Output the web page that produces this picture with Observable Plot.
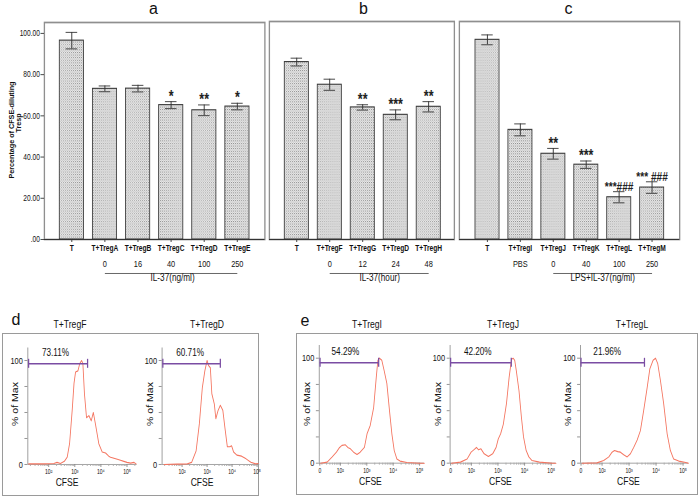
<!DOCTYPE html>
<html><head><meta charset="utf-8">
<script src="https://cdn.jsdelivr.net/npm/d3@7"></script>
<script src="https://cdn.jsdelivr.net/npm/@observablehq/plot@0.6"></script>
<style>
body{margin:0;background:#fff;}
#fig{position:relative;width:700px;height:498px;overflow:hidden;background:#fff;font-family:Arial,'Liberation Sans',Helvetica,sans-serif;}
.lbl{position:absolute;white-space:nowrap;line-height:1;color:#111;}
.box{position:absolute;border:1.5px solid #9a9a9a;box-sizing:border-box;}
svg.plot-svg{position:absolute;left:0;top:0;max-width:none;transform-origin:0 0;}
</style></head><body>
<svg width="0" height="0" style="position:absolute">
 <defs>
  <pattern id="hatch" width="2.6" height="2.6" patternUnits="userSpaceOnUse">
   <rect width="2.6" height="2.6" fill="#ebebeb"/>
   <rect x="0" y="0" width="1" height="1" fill="#878787"/>
   <rect x="1.3" y="1.3" width="1" height="1" fill="#a8a8a8"/>
  </pattern>
 </defs>
</svg>
<div id="fig"></div>
<script>
// ---------------- DATA ----------------
// Panel a
const catsA = ["T","T+TregA","T+TregB","T+TregC","T+TregD","T+TregE"];
const meanA = [96.5, 73.1, 73.2, 65.2, 62.7, 64.5];
const errA  = [4.0, 1.4, 1.6, 1.7, 2.6, 1.6];
const sigA  = ["", "", "", "*", "**", "*"];
const doseA = ["", "0", "16", "40", "100", "250"];
const groupA = "IL-37(ng/ml)";
// Panel b
const catsB = ["T","T+TregF","T+TregG","T+TregD","T+TregH"];
const meanB = [86.1, 75.1, 64.1, 60.5, 64.4];
const errB  = [1.9, 2.7, 1.3, 2.4, 2.5];
const sigB  = ["", "", "**", "***", "**"];
const doseB = ["", "0", "12", "24", "48"];
const groupB = "IL-37(hour)";
// Panel c
const catsC = ["T","T+TregI","T+TregJ","T+TregK","T+TregL","T+TregM"];
const meanC = [96.9, 53.2, 41.6, 36.3, 20.5, 25.2];
const errC  = [2.4, 2.9, 2.6, 1.8, 2.7, 2.8];
const sigC  = ["", "", "**", "***", "***###", "*** ###"];
const doseC = ["", "PBS", "0", "40", "100", "250"];
const groupC = "LPS+IL-37(ng/ml)";
// y axis of bar panels
const barYTicks = [0, 20, 40, 60, 80, 100];
const barYLabels = [".00", "20.00", "40.00", "60.00", "80.00", "100.00"];
const barYTitle1 = "Percentage of CFSE-diluting";
const barYTitle2 = "Tresp";

// Histograms: [log10(CFSE), % of Max]
const curveF = [[1.23,0.6],[1.8,0.6],[2.2,1],[2.32,2],[2.45,1],[2.6,3],[2.71,7],[2.8,20],[2.9,52],[2.97,78],[3.03,89],[3.12,90],[3.19,97],[3.26,100],[3.31,97],[3.37,68],[3.45,45],[3.54,47],[3.63,42],[3.71,50],[3.79,39],[3.92,20],[4.05,12],[4.18,11],[4.3,8],[4.37,7],[4.5,6],[4.63,5],[4.75,4],[4.88,3],[5.0,2],[5.14,1.3],[5.27,2],[5.35,0.6]];
const curveD = [[1.28,0],[1.8,0.3],[2.19,0.5],[2.38,2],[2.56,13],[2.69,39],[2.81,74],[2.91,90],[3.0,100],[3.06,95],[3.13,93],[3.19,68],[3.29,58],[3.35,44],[3.44,52],[3.53,57],[3.63,52],[3.71,36],[3.81,17],[3.91,17],[3.98,18],[4.06,12],[4.19,9],[4.38,8],[4.56,5.4],[4.75,2.2],[4.94,0.6],[5.05,1]];
const curveI = [[1.25,0],[1.5,1],[1.69,6],[1.85,10.5],[1.97,15],[2.06,17],[2.19,17.5],[2.28,15],[2.38,13.7],[2.5,10.5],[2.63,8.3],[2.75,10.5],[2.91,15],[3.01,28],[3.13,36],[3.26,53],[3.36,82],[3.42,98],[3.48,100],[3.57,98],[3.66,88],[3.76,76],[3.86,50],[3.95,28],[4.04,12],[4.14,4],[4.26,2],[4.52,0.6],[5.02,0],[5.18,0]];
const curveJ = [[1.25,0],[1.59,1],[1.84,4],[1.99,10.5],[2.09,12.7],[2.19,15],[2.27,12.7],[2.36,13.7],[2.48,8.9],[2.64,6.3],[2.8,8.9],[2.93,15],[3.01,23],[3.1,28],[3.2,37],[3.32,57],[3.42,82],[3.51,99],[3.57,100],[3.63,98],[3.69,88],[3.79,69],[3.88,44],[3.96,25],[4.06,12],[4.16,6],[4.28,2.5],[4.56,1],[5.05,0],[5.18,0]];
const curveL = [[1.26,0],[1.81,0.3],[2.06,2.5],[2.25,6],[2.37,10.5],[2.46,12],[2.58,11],[2.68,10.5],[2.8,8],[2.93,6],[3.05,9],[3.17,15],[3.3,22],[3.42,31],[3.54,50],[3.67,72],[3.77,90],[3.89,98],[3.98,100],[4.06,95],[4.16,79],[4.28,57],[4.41,28],[4.53,12],[4.65,4],[4.84,2],[5.1,0.6],[5.2,0]];
const histTitles = ["T+TregF","T+TregD","T+TregI","T+TregJ","T+TregL"];
const histCurves = [curveF, curveD, curveI, curveJ, curveL];
const gatePct   = ["73.11%","60.71%","54.29%","42.20%","21.96%"];
const gateStart = [1.23, 1.23, 1.23, 1.22, 1.22];
const gateEnd   = [3.49, 3.53, 3.45, 3.5, 3.57];
const gateLevel = [96.8, 96.8, 95.6, 95.6, 95.6];
const gateTextX = [2.26, 2.32, 2.19, 2.24, 2.19];
const histXTicksD = [2, 3, 4, 5];
const histXLabelsD = ["10²","10³","10⁴","10⁵"];
const histXTicksE = [1.22, 2, 3, 4, 5];
const histXLabelsE = ["0","10²","10³","10⁴","10⁵"];
const histYTicks = [0, 25, 50, 75, 100];
const histYLabels = ["0", "", "", "", "100"];
const histXTitle = "CFSE";
const histYTitle = "% of Max";

// ---------------- LAYOUT ----------------
const SX = 0.78;              // horizontal squeeze of the original figure
const X = v => v / SX;        // screen px -> unscaled plot px
const W = 700 / SX;
const fig = document.getElementById("fig");
function put(svg){ svg.classList.add("plot-svg"); svg.style.transform = `scaleX(${SX})`; fig.appendChild(svg); }
function lbl(text, x, y, size, opts = {}){
  const d = document.createElement("div"); d.className = "lbl"; d.textContent = text;
  d.style.left = x + "px"; d.style.top = y + "px"; d.style.fontSize = size + "px";
  d.style.transform = `translate(-50%,-50%)` + (opts.sx ? ` scaleX(${opts.sx})` : "") + (opts.rot ? ` rotate(${opts.rot}deg)` : "");
  if (opts.bold) d.style.fontWeight = "bold";
  fig.appendChild(d);
}
const STYLE = {background:"transparent", fontFamily:"Arial,'Liberation Sans',Helvetica,sans-serif", overflow:"visible", color:"#111", maxWidth:"none"};

function barPanel(P){
  const data = P.cats.map((c,i)=>({cat:c, mean:P.mean[i], lo:P.mean[i]-P.err[i], hi:P.mean[i]+P.err[i], sig:P.sig[i]}));
  const doseMap = new Map(P.cats.map((c,i)=>[c, P.dose[i]]));
  const group = [{from:P.cats[P.gFrom], to:P.cats[P.cats.length-1], at:P.cats[P.gAt], text:P.group}];
  const marks = [
    Plot.frame({stroke:"#8f8f8f", strokeWidth:1.7}),
    Plot.barY(data, {x:"cat", y:"mean", fill:"url(#hatch)", stroke:"#3a3a3a", strokeWidth:1.1}),
    Plot.ruleX(data, {x:"cat", y1:"lo", y2:"hi", stroke:"#333", strokeWidth:1.2}),
    Plot.tickY(data, {x:"cat", y:"lo", stroke:"#333", insetLeft:X(6.3), insetRight:X(6.3)}),
    Plot.tickY(data, {x:"cat", y:"hi", stroke:"#333", insetLeft:X(6.3), insetRight:X(6.3)}),
    Plot.text(data, {x:"cat", y:"hi", text:"sig", dy:-5, fontSize:d => d.sig.includes("#") ? 13 : 16, fontWeight:"bold", fill:"#222"}),
    Plot.ruleY([0], {stroke:"#333", strokeWidth:1.2}),
    Plot.axisX({tickSize:3, tickPadding:2, fontSize:8.5, fontWeight:"bold", label:null, stroke:"#333"}),
    Plot.axisX({tickSize:0, tickPadding:21, fontSize:9.5, tickFormat:d=>doseMap.get(d), label:null}),
    Plot.link(group, {x1:"from", x2:"to", y1:()=>0, y2:()=>0, dy:34, stroke:"#555", strokeWidth:1}),
    Plot.text(group, {x:"at", text:"text", frameAnchor:"bottom", dy:42, dx:X(P.gDx), fontSize:10.5})
  ];
  if (P.yAxis) {
    marks.push(Plot.axisY({ticks:barYTicks, tickFormat:d=>barYLabels[barYTicks.indexOf(d)], tickSize:X(3.5), tickPadding:X(1), fontSize:8.5, label:null, stroke:"#333"}));
  }
  return Plot.plot({
    width:W, height:300,
    marginLeft:X(P.left), marginRight:W-X(P.right), marginTop:P.top, marginBottom:300-239,
    x:{type:"band", domain:P.cats, range:[X(P.range[0]), X(P.range[1])], paddingInner:0.27, paddingOuter:0, round:false, axis:null},
    y:{domain:[0, P.yTop], axis:null},
    style:STYLE,
    marks
  });
}

put(barPanel({cats:catsA, mean:meanA, err:errA, sig:sigA, dose:doseA, group:groupA, gFrom:1, gAt:3, gDx:1.5,
  left:44, right:264.5, top:22, yTop:105.3, range:[59.3, 249], yAxis:true}));
put(barPanel({cats:catsB, mean:meanB, err:errB, sig:sigB, dose:doseB, group:groupB, gFrom:1, gAt:2, gDx:17,
  left:269, right:454, top:21, yTop:105.8, range:[284.3, 440.3], yAxis:false}));
put(barPanel({cats:catsC, mean:meanC, err:errC, sig:sigC, dose:doseC, group:groupC, gFrom:2, gAt:3, gDx:16.5,
  left:459, right:679.3, top:21, yTop:105.8, range:[475, 663.7], yAxis:false}));

lbl(barYTitle1, 11.8, 130, 7.2, {bold:true, rot:-90});
lbl(barYTitle2, 19.3, 122.5, 7.2, {bold:true, rot:-90});
lbl("a", 153.5, 9, 16);
lbl("b", 363.5, 8.5, 16);
lbl("c", 568.5, 9, 16);

// Bottom boxes
function box(l,t,r,b){ const d=document.createElement("div"); d.className="box"; d.style.left=l+"px"; d.style.top=t+"px"; d.style.width=(r-l)+"px"; d.style.height=(b-t)+"px"; fig.appendChild(d); }
box(2, 333, 259, 495.5);
box(295.5, 333, 697.5, 494.5);

const X_MIN = 1.2, Y_MAX = 112;
const histLayout = [
  {x2:48.3, dec:26.1, xMax:5.38, y0:464, y100:360, tx:70, cfse:66.7, e:false},
  {x2:181.7, dec:25.0, xMax:5.1, y0:464, y100:360, tx:206.7, cfse:201.7, e:false},
  {x2:340, dec:26.4, xMax:5.18, y0:462.7, y100:357.7, tx:366.7, cfse:370, e:true},
  {x2:471, dec:26.6, xMax:5.18, y0:462.7, y100:357.7, tx:502.7, cfse:500, e:true},
  {x2:601.7, dec:27.0, xMax:5.2, y0:462.7, y100:357.7, tx:631.7, cfse:628, e:true}
];
const PURPLE = "#7a4da3", SALMON = "#f47560";
histLayout.forEach((L, i) => {
  const left = L.x2 - (2 - X_MIN) * L.dec;
  const right = L.x2 + (L.xMax - 2) * L.dec;
  const ppu = (L.y0 - L.y100) / 100;
  const top = L.y0 - Y_MAX * ppu;
  const minorTicks = [];
  for (let n = 1; n <= 5; n++) for (let k = 2; k <= 9; k++) { const v = n + Math.log10(k); if (v > X_MIN && v < L.xMax) minorTicks.push(v); }
  const gate = {start:gateStart[i], end:gateEnd[i], level:gateLevel[i], tx:gateTextX[i], pct:gatePct[i]};
  const ends = [{x:gate.start, l:gate.level}, {x:gate.end, l:gate.level}];
  const xt = L.e ? histXTicksE : histXTicksD, xl = L.e ? histXLabelsE : histXLabelsD;
  const cfseDx = L.cfse - (left + right) / 2;
  const svg = Plot.plot({
    width:W, height:498,
    marginLeft:X(left), marginRight:W-X(right), marginTop:top, marginBottom:498-L.y0,
    x:{domain:[X_MIN, L.xMax], axis:null},
    y:{domain:[0, Y_MAX], axis:null},
    style:STYLE,
    marks:[
      Plot.ruleY([0], {stroke:"#9a9a9a"}),
      Plot.ruleX([X_MIN], {stroke:"#9a9a9a", strokeWidth:1.2}),
      Plot.axisX({ticks:minorTicks, tickSize:2, tickFormat:()=>"", stroke:"#aaa", label:null}),
      Plot.axisX({ticks:xt, tickSize:3, tickPadding:2, tickFormat:d=>xl[xt.indexOf(d)], fontSize:6.5, stroke:"#888", label:null}),
      Plot.axisY({ticks:histYTicks, tickSize:X(3), tickPadding:X(2), tickFormat:d=>histYLabels[histYTicks.indexOf(d)], fontSize:9.5, stroke:"#888", label:null}),
      Plot.text([histXTitle], {frameAnchor:"bottom", dy:22, dx:X(cfseDx), fontSize:11}),
      Plot.line(histCurves[i], {x:d=>d[0], y:d=>d[1], stroke:SALMON, strokeWidth:1.1}),
      Plot.ruleY([gate], {y:"level", x1:"start", x2:"end", stroke:PURPLE, strokeWidth:1.6}),
      Plot.ruleX(ends, {x:"x", y1:"l", y2:"l", insetTop:-4.5, insetBottom:-4.5, stroke:PURPLE, strokeWidth:1.6}),
      Plot.text([gate], {x:"tx", y:"level", text:"pct", dy:-11, fontSize:10.5})
    ]
  });
  put(svg);
  lbl(histTitles[i], L.tx, 323.5, 11, {sx:SX});
  lbl(histYTitle, left - 12, 403.5, 10.5, {sx:SX, rot:-90});
});
lbl("d", 16, 320, 16);
lbl("e", 305, 321, 16);
</script>
</body></html>
